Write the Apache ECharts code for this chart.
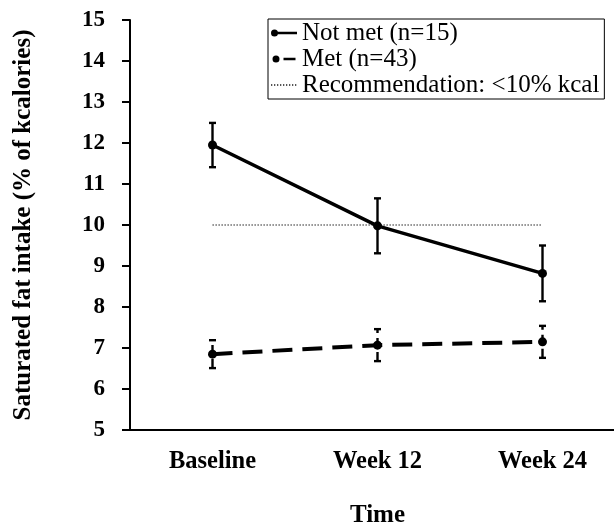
<!DOCTYPE html>
<html>
<head>
<meta charset="utf-8">
<script src="https://cdn.jsdelivr.net/npm/echarts@6/dist/echarts.min.js"></script>
<style>html,body{margin:0;padding:0;background:#fff}#c{width:614px;height:529px}</style>
</head>
<body>
<div id="c"></div>
<script>
var categories = ['Baseline', 'Week 12', 'Week 24'];
var notMetMean = [11.95, 9.98, 8.82];
var notMetErr = [0.54, 0.67, 0.68];
var metMean = [6.85, 7.07, 7.15];
var metErr = [0.34, 0.39, 0.39];
var recommendation = [10, 10, 10];
var yTicks = { min: 5, max: 15, interval: 1 };
var names = { notMet: 'Not met (n=15)', met: 'Met (n=43)', rec: 'Recommendation: <10% kcal' };

var FONT = 'Liberation Serif';

function errData(mean, err) {
  return mean.map(function (m, i) { return [i, m - err[i], m + err[i]]; });
}
function errRender(dash) {
  return function (params, api) {
    var i = api.value(0);
    var lo = api.coord([i, api.value(1)]);
    var hi = api.coord([i, api.value(2)]);
    var w = 3.5;
    var st = { stroke: '#000', lineWidth: 2.4, fill: null };
    var children = [
      { type: 'line', shape: { x1: lo[0] - w, y1: lo[1], x2: lo[0] + w, y2: lo[1] }, style: st },
      { type: 'line', shape: { x1: hi[0] - w, y1: hi[1], x2: hi[0] + w, y2: hi[1] }, style: st },
      { type: 'line', shape: { x1: lo[0], y1: lo[1], x2: hi[0], y2: hi[1] },
        style: { stroke: '#000', lineWidth: 2.4, lineDash: dash } }
    ];
    return { type: 'group', children: children };
  };
}

var chart = echarts.init(document.getElementById('c'), null, { renderer: 'canvas' });
chart.setOption({
  animation: false,
  backgroundColor: '#fff',
  textStyle: { fontFamily: FONT },
  grid: { left: 130, top: 20, bottom: 99, right: -11, outerBoundsMode: 'none', containLabel: false },
  legend: {
    orient: 'vertical',
    left: 268, top: 19,
    padding: [1, 5, 1, 2],
    itemGap: 0,
    itemWidth: 26, itemHeight: 7,
    borderColor: '#000', borderWidth: 1,
    textStyle: { fontFamily: FONT, fontSize: 25, color: '#000', lineHeight: 26 },
    data: [
      { name: names.notMet, icon: 'path://M0,3.5 A3.5,3.5 0 1 1 7,3.5 A3.5,3.5 0 1 1 0,3.5 Z M6,2.2 L26,2.2 L26,4.8 L6,4.8 Z' },
      { name: names.met, icon: 'path://M0,3.5 A3.5,3.5 0 1 1 7,3.5 A3.5,3.5 0 1 1 0,3.5 Z M11,2.2 L23,2.2 L23,4.8 L11,4.8 Z' },
      { name: names.rec, itemStyle: { opacity: 0 } }
    ]
  },
  xAxis: {
    type: 'category',
    data: categories,
    boundaryGap: true,
    name: 'Time',
    nameLocation: 'middle',
    nameGap: 73,
    nameTextStyle: { fontFamily: FONT, fontSize: 25, fontWeight: 'bold', color: '#000' },
    axisLine: { lineStyle: { color: '#000', width: 2 } },
    axisTick: { alignWithLabel: true, length: 5, lineStyle: { color: '#000', width: 2 } },
    axisLabel: { margin: 19, fontFamily: FONT, fontSize: 24.5, fontWeight: 'bold', color: '#000' },
    splitLine: { show: false }
  },
  yAxis: {
    type: 'value',
    min: yTicks.min, max: yTicks.max, interval: yTicks.interval,
    name: 'Saturated fat intake (% of kcalories)',
    nameLocation: 'middle',
    nameGap: 94,
    nameTextStyle: { fontFamily: FONT, fontSize: 25, fontWeight: 'bold', color: '#000' },
    axisLine: { show: true, lineStyle: { color: '#000', width: 2 } },
    axisTick: { show: true, length: 8, lineStyle: { color: '#000', width: 2 } },
    axisLabel: { margin: 25, fontFamily: FONT, fontSize: 23, fontWeight: 'bold', color: '#000' },
    splitLine: { show: false }
  },
  series: [
    {
      name: names.rec, type: 'line', data: recommendation, symbol: 'none',
      lineStyle: { color: '#555', width: 1.3, type: [1.3, 1.7] }, itemStyle: { color: '#555' }, z: 1
    },
    {
      name: 'errNotMet', type: 'custom', data: errData(notMetMean, notMetErr),
      renderItem: errRender(null), z: 3
    },
    {
      name: 'errMet', type: 'custom', data: errData(metMean, metErr),
      renderItem: errRender([9, 5]), z: 3
    },
    {
      name: names.notMet, type: 'line', data: notMetMean, symbol: 'circle', symbolSize: 9,
      lineStyle: { color: '#000', width: 3.5 }, itemStyle: { color: '#000' }, z: 4
    },
    {
      name: names.met, type: 'line', data: metMean, symbol: 'circle', symbolSize: 9,
      lineStyle: { color: '#000', width: 4, type: [20, 10] }, itemStyle: { color: '#000' }, z: 4
    }
  ]
});
</script>
</body>
</html>
